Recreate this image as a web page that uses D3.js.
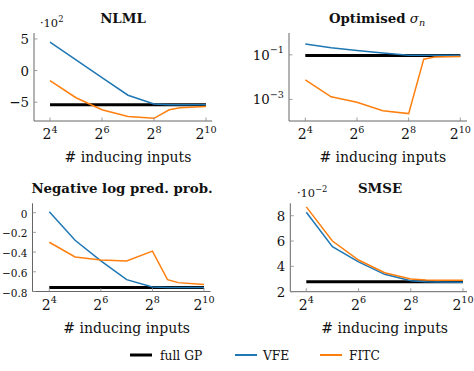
<!DOCTYPE html>
<html><head><meta charset="utf-8">
<script src="https://cdn.jsdelivr.net/npm/d3@7"></script>
<style>
body{margin:0;background:#fff;}
svg text, svg tspan { font-family: "DejaVu Serif", "Liberation Serif", serif; }
</style></head>
<body>
<svg id="chart" width="474" height="371"></svg>
<script>
// ---- data ----
const inducing = [16, 32, 64, 128, 256, 384, 512, 1024];
const xTickExp = [4, 6, 8, 10];
const seriesNames = ["full GP", "VFE", "FITC"];
const colors = ["#000000", "#1f77b4", "#ff7f0e"];

const nlmlFull = -5.4;
const nlmlVFE  = [4.5, 1.7, -1.1, -3.9, -5.3, -5.4, -5.4, -5.4];
const nlmlFITC = [-1.6, -4.3, -6.2, -7.25, -7.55, -6.2, -5.9, -5.7];
const nlmlTicks = [-5, 0, 5];

const sigmaFull = 0.093;
const sigmaVFE  = [0.31, 0.21, 0.155, 0.12, 0.097, 0.096, 0.096, 0.096];
const sigmaFITC = [0.0075, 0.0013, 0.00074, 0.00031, 0.00023, 0.064, 0.08, 0.085];
const sigmaTickExp = [-1, -3];

const nlppFull = -0.76;
const nlppVFE  = [0.01, -0.28, -0.49, -0.68, -0.755, -0.76, -0.76, -0.76];
const nlppFITC = [-0.30, -0.45, -0.48, -0.49, -0.39, -0.68, -0.71, -0.73];
const nlppTicks = [0, -0.2, -0.4, -0.6, -0.8];

const smseFull = 2.78;
const smseVFE  = [8.27, 5.55, 4.36, 3.37, 2.87, 2.78, 2.76, 2.75];
const smseFITC = [8.7, 6.0, 4.5, 3.5, 3.0, 2.92, 2.9, 2.9];
const smseTicks = [2, 4, 6, 8];

// ---- layout ----
const svg = d3.select("#chart");
const fmtMinus = v => (v < 0 ? "\u2212" : "") + Math.abs(v);

// font size calibration: "# inducing inputs" is ~127px wide in the reference
const probe = svg.append("text").attr("font-size", 16).text("# inducing inputs");
const probeW = probe.node().getComputedTextLength();
probe.remove();
const K = Math.max(0.75, Math.min(1.3, 127 / probeW));
const FS = 16 * K, SUP = 11 * K, YFS = 15.2 * K, TFS = 15.2 * K;

const panels = [
  {title:"NLML", ax:34, x0:50, x1:206, xEnd:212, yTop:33, yBot:121, titleX:123, titleY:23,
   yScale: d3.scaleLinear().domain([-7.98, 5.94]).range([121, 33]),
   full:nlmlFull, vfe:nlmlVFE, fitc:nlmlFITC, ticks:nlmlTicks, tickFmt:fmtMinus,
   expo:{x:40, y:27, base:"\u00b710", sup:"2"}},
  {title:"Optimised", sigma:true, ax:289, x0:305.3, x1:460.3, xEnd:467, yTop:33, yBot:121, titleX:377, titleY:23,
   yScale: d3.scaleLog().domain([Math.pow(10,-3.97), Math.pow(10,-0.02)]).range([121, 33]),
   full:sigmaFull, vfe:sigmaVFE, fitc:sigmaFITC, ticks:sigmaTickExp.map(e=>Math.pow(10,e)), logTicks:sigmaTickExp},
  {title:"Negative log pred. prob.", ax:32.5, x0:49.3, x1:204, xEnd:210.5, yTop:203.3, yBot:291.5, titleX:122, titleY:193,
   yScale: d3.scaleLinear().domain([-0.8, 0.095]).range([291.5, 203.3]),
   full:nlppFull, vfe:nlppVFE, fitc:nlppFITC, ticks:nlppTicks, tickFmt:v=>v===0?"0":fmtMinus(v)},
  {title:"SMSE", ax:290.3, x0:306.3, x1:463, xEnd:467, yTop:203.3, yBot:291.7, titleX:380, titleY:193,
   yScale: d3.scaleLinear().domain([2, 8.98]).range([291.7, 203.3]),
   full:smseFull, vfe:smseVFE, fitc:smseFITC, ticks:smseTicks, tickFmt:v=>String(v),
   expo:{x:297, y:197, base:"\u00b710", sup:"\u22122"}}
];

panels.forEach(p => {
  const g = svg.append("g");
  const x = d3.scaleLog().base(2).domain([16, 1024]).range([p.x0, p.x1]);
  const y = p.yScale;

  const line = d3.line().x((d,i)=>x(inducing[i])).y(d=>y(d));
  g.append("line").attr("x1", x(inducing[0])).attr("x2", x(inducing[inducing.length-1]))
    .attr("y1", y(p.full)).attr("y2", y(p.full))
    .attr("stroke", colors[0]).attr("stroke-width", 3);
  g.append("path").datum(p.vfe).attr("d", line).attr("fill","none")
    .attr("stroke", colors[1]).attr("stroke-width", 1.5);
  g.append("path").datum(p.fitc).attr("d", line).attr("fill","none")
    .attr("stroke", colors[2]).attr("stroke-width", 1.5);

  const axisColor = "#666";
  g.append("line").attr("x1", p.ax).attr("x2", p.ax).attr("y1", p.yTop).attr("y2", p.yBot)
    .attr("stroke", axisColor).attr("stroke-width", 1);
  g.append("line").attr("x1", p.ax).attr("x2", p.xEnd).attr("y1", p.yBot).attr("y2", p.yBot)
    .attr("stroke", axisColor).attr("stroke-width", 1);

  xTickExp.forEach(e => {
    const xp = x(Math.pow(2, e));
    g.append("line").attr("x1", xp).attr("x2", xp).attr("y1", p.yBot).attr("y2", p.yBot - 3.5)
      .attr("stroke", "#888").attr("stroke-width", 0.8);
    const t = g.append("text").attr("x", xp).attr("y", p.yBot + 18).attr("text-anchor","middle")
      .attr("font-size", FS).attr("fill", "#111");
    t.append("tspan").text("2");
    t.append("tspan").attr("dy", -6.5).attr("font-size", SUP).text(String(e));
  });
  g.append("text").attr("x", (p.x0 + p.x1)/2).attr("y", p.yBot + 41).attr("text-anchor","middle")
    .attr("font-size", FS).attr("fill", "#111").text("# inducing inputs");

  // y tick labels: shrink so that the longest one fits inside the picture
  let yfs = YFS;
  const labelRight = p.ax - 5;
  if (!p.logTicks) {
    const pr = svg.append("text").attr("font-size", YFS);
    let maxW = 0;
    p.ticks.forEach(v => { pr.text(p.tickFmt(v)); maxW = Math.max(maxW, pr.node().getComputedTextLength()); });
    pr.remove();
    if (maxW > labelRight - 2) yfs = YFS * (labelRight - 2) / maxW;
  }
  p.ticks.forEach((v, i) => {
    const yp = y(v);
    g.append("line").attr("x1", p.ax).attr("x2", p.ax + 3.5).attr("y1", yp).attr("y2", yp)
      .attr("stroke", "#888").attr("stroke-width", 0.8);
    const t = g.append("text").attr("x", labelRight).attr("y", yp + 5).attr("text-anchor","end")
      .attr("font-size", yfs).attr("fill", "#111");
    if (p.logTicks) {
      t.append("tspan").text("10");
      t.append("tspan").attr("dy", -6.5).attr("font-size", SUP).text("\u2212" + Math.abs(p.logTicks[i]));
    } else {
      t.text(p.tickFmt(v));
    }
  });

  const tt = g.append("text").attr("x", p.titleX).attr("y", p.titleY).attr("text-anchor","middle")
    .attr("font-size", TFS).attr("font-weight","bold").attr("fill", "#111");
  tt.append("tspan").text(p.title);
  if (p.sigma) {
    tt.append("tspan").text(" \u03c3").attr("font-style","italic").attr("font-weight","normal");
    tt.append("tspan").attr("dy", 3).attr("font-size", SUP).attr("font-style","italic")
      .attr("font-weight","normal").text("n");
  }

  if (p.expo) {
    const et = g.append("text").attr("x", p.expo.x).attr("y", p.expo.y).attr("font-size", 13*K).attr("fill", "#111");
    et.append("tspan").text(p.expo.base);
    et.append("tspan").attr("dy", -5).attr("font-size", 9.5*K).text(p.expo.sup);
  }
});

const legendItems = [
  {name: seriesNames[0], lx:130, tx:160, w:3},
  {name: seriesNames[1], lx:235, tx:263, w:2},
  {name: seriesNames[2], lx:320, tx:349, w:2}
];
const ly = 355;
legendItems.forEach((d, i) => {
  svg.append("line").attr("x1", d.lx).attr("x2", d.lx + 22).attr("y1", ly).attr("y2", ly)
    .attr("stroke", colors[i]).attr("stroke-width", d.w);
  svg.append("text").attr("x", d.tx).attr("y", ly + 5).attr("font-size", 14*K).attr("fill", "#111").text(d.name);
});
</script>
</body></html>
